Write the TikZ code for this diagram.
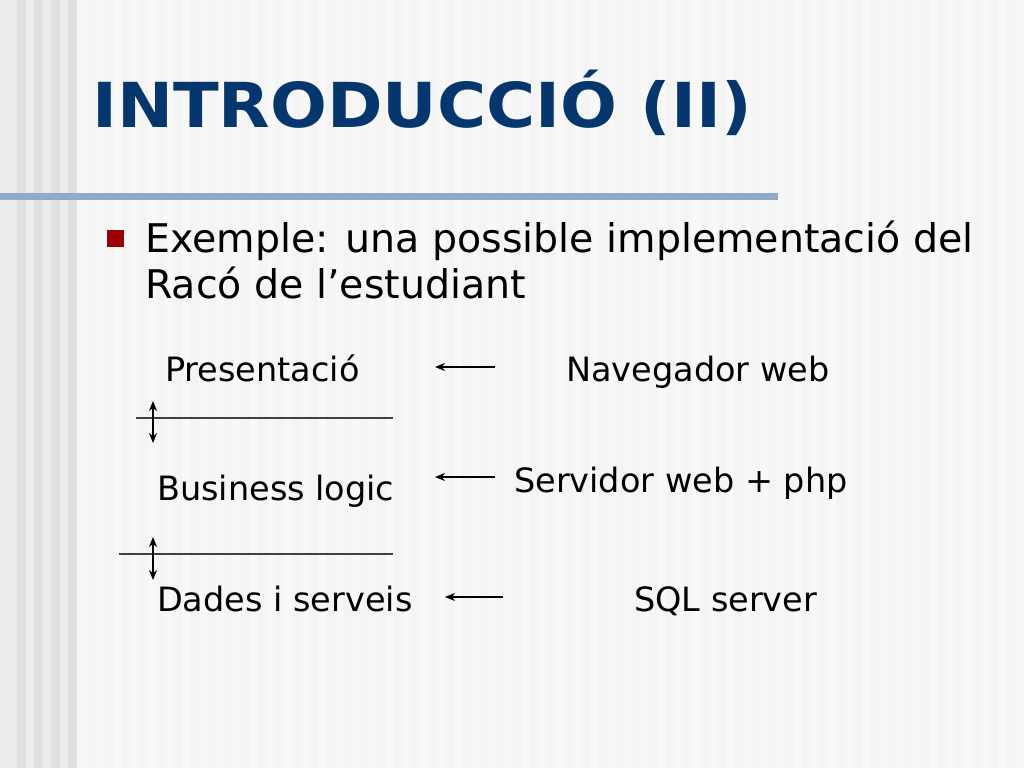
\documentclass[tikz,border=0pt]{standalone}
\usepackage{fontspec}
\setmainfont{DejaVu Sans}
\newfontfamily\titlefont[FakeStretch=1.08]{DejaVu Sans Bold}
\usetikzlibrary{arrows.meta, positioning}
\definecolor{titleblue}{RGB}{5,55,110}
\definecolor{barblue}{RGB}{143,171,200}
\definecolor{bulletred}{RGB}{155,0,0}
\definecolor{slidebg}{RGB}{244,244,244}
\definecolor{bandbg}{RGB}{236,236,236}
\definecolor{bandstripe}{RGB}{224,224,224}
\tikzset{
  layer/.style={anchor=base west, inner sep=0pt, font=\fontsize{33.5}{40}\selectfont},
  tool/.style={layer},
  bullettext/.style={anchor=base west, inner sep=0pt, font=\fontsize{39.5}{46}\selectfont},
  pointer/.style={line width=2pt, -{Stealth[length=10pt,width=8pt]}},
  updown/.style={line width=2pt, {Stealth[length=10pt,width=8pt]}-{Stealth[length=10pt,width=8pt]}},
  divider/.style={line width=1.8pt, black!75}
}
\begin{document}
\begin{tikzpicture}[x=1pt, y=-1pt]
  % slide background with the striped left band
  \fill[slidebg] (0,0) rectangle (1024,768);
  \foreach \x in {80,97,...,1020}
    \fill[white!35!slidebg] (\x,0) rectangle ++(8,768);
  \fill[bandbg] (0,0) rectangle (77,768);
  \foreach \x in {17,34,51,68}
    \fill[bandstripe] (\x,0) rectangle ++(9,768);
  \useasboundingbox (0,0) rectangle (1024,768);

  % title and the bar under it
  \node[anchor=base west, inner sep=0pt, text=titleblue, font=\titlefont\fontsize{62}{70}\selectfont]
    (title) at (92,127) {INTRODUCCIÓ (II)};
  \fill[barblue] (0,193) rectangle (778,200);

  % bullet text
  \fill[bulletred] (107,230) rectangle (124,247);
  \node[bullettext] (intro) at (145,252) {Exemple: una possible implementació del};
  \node[bullettext] (intro2) at (145,298) {Racó de l’estudiant};

  % the three layers
  \node[layer] (pres) at (165,381) {Presentació};
  \node[layer] (logic) at (157,500) {Business logic};
  \node[layer] (data) at (157,611) {Dades i serveis};

  % what implements each layer
  \node[tool] (browser) at (566,381) {Navegador web};
  \node[tool] (webserver) at (514,492) {Servidor web + php};
  \node[tool] (sql) at (634,611) {SQL server};

  % arrows from the tools to the layers
  \coordinate (p1) at (495,367); \coordinate (q1) at (435,367);
  \coordinate (p2) at (495,477); \coordinate (q2) at (435,477);
  \coordinate (p3) at (503,597); \coordinate (q3) at (445,597);
  \draw[pointer] (p1) -- (q1);
  \draw[pointer] (p2) -- (q2);
  \draw[pointer] (p3) -- (q3);

  % layer boundaries
  \coordinate (l1) at (136,418); \coordinate (r1) at (393,418);
  \coordinate (l2) at (119,554); \coordinate (r2) at (393,554);
  \draw[divider] (l1) -- (r1);
  \draw[divider] (l2) -- (r2);
  \coordinate (u1) at (153,401); \coordinate (d1) at (153,443);
  \coordinate (u2) at (153,537); \coordinate (d2) at (153,580);
  \draw[updown] (u1) -- (d1);
  \draw[updown] (u2) -- (d2);
\end{tikzpicture}
\end{document}
